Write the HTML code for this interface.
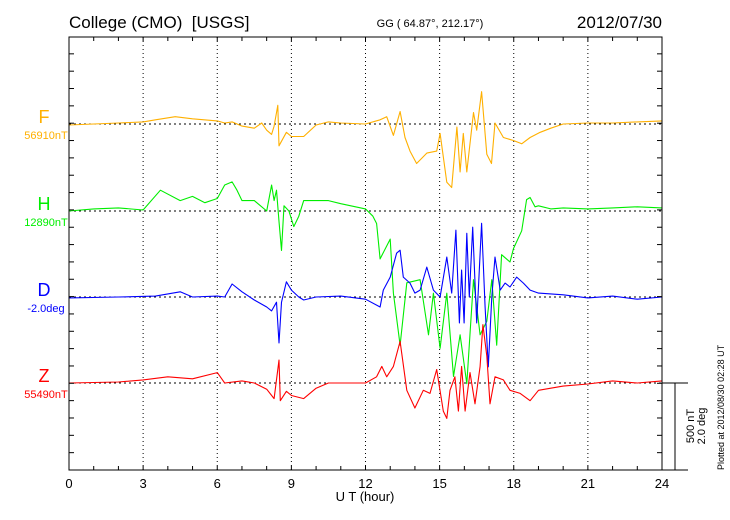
<!DOCTYPE html>
<html><head><meta charset="utf-8">
<style>
html,body{margin:0;padding:0;background:#fff;}
svg{display:block;font-family:"Liberation Sans",sans-serif;}
</style></head>
<body>
<svg id="chart" width="730" height="520" viewBox="0 0 730 520">
<text x="69" y="28" font-size="17" fill="#000">College (CMO)&#160;&#160;[USGS]</text>
<text x="430" y="27" font-size="11" fill="#000" text-anchor="middle">GG ( 64.87°, 212.17°)</text>
<text x="662" y="28" font-size="17" fill="#000" text-anchor="end">2012/07/30</text>
<g id="grid"></g>
<g id="series"></g>
<g id="axes"></g>
<text x="365" y="501" font-size="13" text-anchor="middle">U T (hour)</text>
<text transform="translate(694,426) rotate(-90)" font-size="11" text-anchor="middle">500 nT</text>
<text transform="translate(705,426) rotate(-90)" font-size="11" text-anchor="middle">2.0 deg</text>
<text transform="translate(724,470) rotate(-90)" font-size="9">Plotted at 2012/08/30 02:28 UT</text>
</svg>
<script>
const xTicks = [0,3,6,9,12,15,18,21,24];
const fTimes = [0,1,2,3,3.5,4.3,5,6,6.3,6.6,7,7.5,7.8,8.0,8.2,8.3,8.45,8.5,8.8,9.0,9.5,10,10.5,11,12,12.59,12.86,13.13,13.4,13.6,13.8,14.07,14.48,14.88,15.02,15.29,15.49,15.7,15.83,15.96,16.1,16.37,16.5,16.7,16.91,17.1,17.24,17.58,18.0,18.32,18.66,19.07,19.5,20,21,22,23,24];
const fValues = [-6,0,6,12,24,42,30,18,6,12,-12,-24,6,-36,-60,-12,108,-126,-48,-72,-72,-6,12,6,0,24,42,-66,72,-78,-156,-228,-168,-156,-54,-336,-366,-18,-276,-54,-276,66,-36,186,-174,-228,6,-78,-96,-114,-78,-48,-24,0,6,6,12,18];
const hTimes = [0,1,2,3,3.7,4.5,5,5.5,6,6.3,6.6,6.8,7,7.5,8,8.2,8.3,8.4,8.5,8.6,8.7,8.9,9.1,9.3,9.5,10,10.5,11,12,12.3,12.45,12.59,13.0,13.13,13.4,13.67,14.21,14.55,14.75,15.02,15.29,15.56,15.83,16.1,16.37,16.64,16.91,17.11,17.31,17.51,17.85,17.99,18.32,18.52,18.66,18.86,19,19.5,20,21,22,23,24];
const hValues = [0,12,18,6,120,60,84,48,72,150,168,120,60,60,0,150,60,120,-60,-228,30,0,-90,-30,60,60,60,42,12,-30,-72,-276,-162,-474,-774,-414,-396,-714,-474,-792,-474,-954,-714,-996,-396,-714,-636,-396,-774,-252,-294,-216,-114,66,78,24,30,12,18,12,18,24,18];
const dTimes = [0,2,3.5,4.5,5,6,6.3,6.6,7,7.5,8,8.2,8.4,8.5,8.6,8.8,9,9.3,9.5,10,11,12,12.59,12.72,13.0,13.26,13.4,13.53,13.8,14.0,14.21,14.48,14.75,15.02,15.29,15.49,15.66,15.8,15.89,15.99,16.1,16.2,16.34,16.5,16.7,16.84,16.97,17.11,17.24,17.45,17.65,17.85,18.12,18.39,18.66,19,20,21,22,23,24];
const dValues = [-0.02,0,0.02,0.12,0,0.02,0,0.30,0.12,-0.07,-0.23,-0.32,-0.12,-1.06,-0.12,0.35,0.16,0,-0.07,0,0.02,-0.05,-0.23,0.16,0.46,1.01,1.08,0.46,0.32,0.09,0.16,0.69,0.16,0,0.92,0.09,1.54,-0.60,0.62,-0.60,1.47,0,1.61,-0.60,1.70,-0.23,-1.61,0,0.92,0.16,0.32,0.23,0.46,0.32,0.16,0.09,0.05,-0.02,0.02,-0.05,0];
const zTimes = [0,2,3,4,5,6,6.3,7,7.5,8,8.3,8.5,8.55,8.8,9,9.5,10,10.5,12,12.45,12.66,12.86,13.13,13.4,13.67,14.0,14.34,14.61,14.88,15.15,15.29,15.42,15.62,15.76,15.89,16.03,16.23,16.43,16.64,16.75,16.91,17.04,17.24,17.58,17.85,18.26,18.66,19.0,19.5,20,21,22,23,24];
const zValues = [0,6,18,36,24,60,0,12,0,-36,-90,132,-102,-48,-72,-90,-30,0,0,36,96,36,96,240,-42,-144,-42,-60,78,-162,-204,-42,36,-162,96,-162,60,-120,96,336,156,-120,36,18,-42,-60,-102,-42,-30,-18,-6,12,0,12];

const NS='http://www.w3.org/2000/svg';
const L=69,R=662,T=37,B=470;
const tick=86.7/5;
const xs=h=>L+(R-L)*h/24;
const pxPerNT=86.7/500, pxPerDeg=86.7/2.0;
function mk(tag,attrs,parent){const e=document.createElementNS(NS,tag);for(const k in attrs)e.setAttribute(k,attrs[k]);parent.appendChild(e);return e;}
const grid=document.getElementById('grid'),axes=document.getElementById('axes'),ser=document.getElementById('series'),svg=document.getElementById('chart');

const series=[
 {key:'f',label:'F',base:'56910nT',color:'#ffb000',y0:124,t:fTimes,v:fValues,k:pxPerNT},
 {key:'h',label:'H',base:'12890nT',color:'#00ee00',y0:211,t:hTimes,v:hValues,k:pxPerNT},
 {key:'d',label:'D',base:'-2.0deg',color:'#0000ff',y0:297,t:dTimes,v:dValues,k:pxPerDeg},
 {key:'z',label:'Z',base:'55490nT',color:'#ff0000',y0:383,t:zTimes,v:zValues,k:pxPerNT}
];
xTicks.slice(1,-1).forEach(h=>{
 const g=mk('line',{x1:xs(h),x2:xs(h),y1:T,y2:B,stroke:'#000','stroke-width':1,'stroke-dasharray':'1,3'},grid);
 
 
});
series.forEach(s=>{
 const g=mk('line',{x1:L,x2:R,y1:s.y0,y2:s.y0,stroke:'#000','stroke-width':1,'stroke-dasharray':'2,3'},grid);
 
 
 const pts=s.t.map((h,i)=>xs(h).toFixed(1)+','+(s.y0-s.v[i]*s.k).toFixed(1)).join(' ');
 const p=mk('polyline',{points:pts,fill:'none',stroke:s.color,'stroke-width':1.1,'stroke-linejoin':'round'},ser);
 
 
 const t1=mk('text',{x:44,y:s.y0-1,'font-size':18,fill:s.color,'text-anchor':'middle'},svg);
 t1.textContent=s.label;
 
 
 const t2=mk('text',{x:46,y:s.y0+15,'font-size':11,fill:s.color,'text-anchor':'middle'},svg);
 t2.textContent=s.base;
 
 
});
const fr=mk('rect',{x:L,y:T,width:R-L,height:B-T,fill:'none',stroke:'#000','stroke-width':1},axes);


for(let h=1;h<24;h++){
 const tt=mk('line',{x1:xs(h),x2:xs(h),y1:T,y2:T+4,stroke:'#000'},axes);
 
 
 const tb=mk('line',{x1:xs(h),x2:xs(h),y1:B,y2:B-4,stroke:'#000'},axes);
 
 
}
for(let i=1;i<25;i++){
 const y=B-i*tick; if(y<=T+1)break;
 const a=mk('line',{x1:L,x2:L+5,y1:y,y2:y,stroke:'#000'},axes);
 
 
 const b=mk('line',{x1:R,x2:R-5,y1:y,y2:y,stroke:'#000'},axes);
 
 
}
xTicks.forEach(h=>{
 const t=mk('text',{x:xs(h),y:488,'font-size':13,'text-anchor':'middle'},axes);
 t.textContent=h;
 
 
});
const s1=mk('line',{x1:R,x2:688,y1:383,y2:383,stroke:'#000'},axes);


const s2=mk('line',{x1:R,x2:688,y1:B,y2:B,stroke:'#000'},axes);


const s3=mk('line',{x1:675,x2:675,y1:383,y2:B,stroke:'#000'},axes);


</script>
</body></html>
